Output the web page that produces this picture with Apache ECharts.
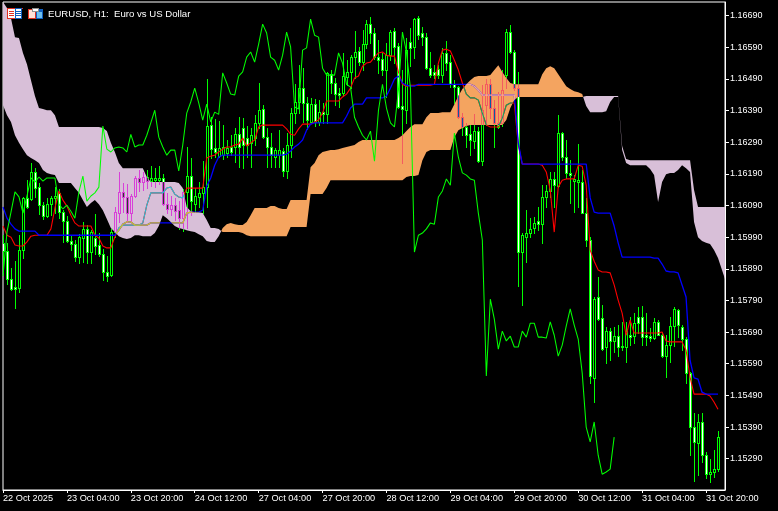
<!DOCTYPE html>
<html>
<head>
<meta charset="utf-8">
<title>EURUSD, H1</title>
<style>html,body{margin:0;padding:0;background:#000;}#c{width:778px;height:511px;}</style>
<script src="https://cdn.jsdelivr.net/npm/echarts@6/dist/echarts.min.js"></script>
</head>
<body>
<div id="c"></div>
<script>
const chartTitle = 'EURUSD, H1:  Euro vs US Dollar';
const xTickBars = [0,16,32,48,64,80,96,112,128,144,160,176];
const xTickLabels = ['22 Oct 2025','23 Oct 04:00','23 Oct 20:00','24 Oct 12:00','27 Oct 04:00','27 Oct 20:00','28 Oct 12:00','29 Oct 04:00','29 Oct 20:00','30 Oct 12:00','31 Oct 04:00','31 Oct 20:00'];
const yTicks = [1.1529,1.1539,1.1549,1.1559,1.1569,1.1579,1.1589,1.1599,1.1609,1.1619,1.1629,1.1639,1.1649,1.1659,1.1669];

const opens = [
1.15972,1.15946,1.15858,1.15832,1.15829,1.15949,1.16114,1.16111,1.16196,1.16148,1.16091,1.16056,1.16094,1.16114,1.16130,1.16069,1.16041,1.15978,1.15968,1.15927,
1.15987,1.16016,1.15943,1.15987,1.15965,1.15936,1.15880,1.15870,1.16006,1.16066,1.16133,1.16117,1.16066,1.16120,1.16177,1.16164,1.16180,1.16167,1.16170,1.16170,
1.16177,1.16094,1.16079,1.16091,1.16075,1.16050,1.16133,1.16183,1.16094,1.16117,1.16130,1.16148,1.16344,1.16272,1.16246,1.16249,1.16256,1.16275,1.16275,1.16315,
1.16335,1.16303,1.16288,1.16303,1.16351,1.16395,1.16306,1.16275,1.16243,1.16249,1.16262,1.16199,1.16281,1.16382,1.16417,1.16461,1.16414,1.16354,1.16410,1.16354,
1.16385,1.16378,1.16505,1.16477,1.16446,1.16446,1.16496,1.16512,1.16559,1.16578,1.16543,1.16600,1.16663,1.16635,1.16559,1.16553,1.16518,1.16565,1.16641,1.16594,
1.16404,1.16391,1.16607,1.16591,1.16682,1.16635,1.16622,1.16524,1.16512,1.16521,1.16502,1.16572,1.16543,1.16473,1.16464,1.16369,1.16338,1.16315,1.16294,1.16325,
1.16230,1.16407,1.16473,1.16398,1.16351,1.16351,1.16502,1.16638,1.16575,1.16461,1.15943,1.15990,1.16003,1.16019,1.16041,1.16031,1.16117,1.16136,1.16174,1.16151,
1.16319,1.16243,1.16193,1.16167,1.16164,1.16164,1.16066,1.15981,1.15545,1.15801,1.15734,1.15643,1.15693,1.15662,1.15677,1.15646,1.15643,1.15680,1.15677,1.15737,
1.15737,1.15680,1.15677,1.15671,1.15722,1.15680,1.15614,1.15649,1.15709,1.15759,1.15706,1.15668,1.15561,1.15390,1.15340,1.15406,1.15301,1.15241,1.15248,1.15257];

const highs = [
1.15996,1.15972,1.15892,1.15914,1.15996,1.16117,1.16170,1.16224,1.16208,1.16161,1.16101,1.16114,1.16120,1.16148,1.16142,1.16075,1.16056,1.15996,1.15981,1.15999,
1.16038,1.16028,1.16012,1.16062,1.16003,1.15953,1.15930,1.16019,1.16085,1.16196,1.16161,1.16157,1.16126,1.16183,1.16202,1.16196,1.16202,1.16214,1.16208,1.16214,
1.16189,1.16130,1.16120,1.16114,1.16104,1.16142,1.16275,1.16240,1.16145,1.16164,1.16230,1.16490,1.16369,1.16363,1.16357,1.16344,1.16297,1.16312,1.16335,1.16369,
1.16366,1.16341,1.16335,1.16375,1.16477,1.16407,1.16335,1.16319,1.16272,1.16328,1.16272,1.16319,1.16398,1.16473,1.16533,1.16524,1.16433,1.16430,1.16427,1.16423,
1.16414,1.16512,1.16518,1.16493,1.16461,1.16572,1.16549,1.16565,1.16641,1.16591,1.16644,1.16676,1.16685,1.16651,1.16613,1.16572,1.16604,1.16644,1.16651,1.16604,
1.16518,1.16619,1.16651,1.16682,1.16688,1.16654,1.16635,1.16575,1.16533,1.16533,1.16588,1.16610,1.16565,1.16486,1.16467,1.16382,1.16351,1.16344,1.16378,1.16338,
1.16470,1.16490,1.16490,1.16423,1.16449,1.16518,1.16648,1.16660,1.16581,1.16512,1.16003,1.16075,1.16050,1.16053,1.16085,1.16154,1.16154,1.16196,1.16196,1.16375,
1.16322,1.16297,1.16233,1.16186,1.16284,1.16202,1.16114,1.15990,1.15801,1.15864,1.15775,1.15706,1.15703,1.15706,1.15712,1.15722,1.15722,1.15737,1.15750,1.15769,
1.15772,1.15750,1.15703,1.15734,1.15728,1.15690,1.15680,1.15737,1.15769,1.15763,1.15712,1.15674,1.15564,1.15434,1.15430,1.15434,1.15311,1.15289,1.15317,1.15377];

const lows = [
1.15880,1.15841,1.15823,1.15766,1.15817,1.15924,1.16082,1.16107,1.16117,1.16062,1.16047,1.16053,1.16059,1.16066,1.16050,1.15975,1.15975,1.15949,1.15914,1.15908,
1.15911,1.15908,1.15908,1.15936,1.15930,1.15854,1.15851,1.15867,1.15990,1.16038,1.16069,1.16038,1.16041,1.16117,1.16136,1.16139,1.16145,1.16151,1.16148,1.16157,
1.16091,1.16066,1.16059,1.16044,1.16016,1.16009,1.16019,1.16059,1.16069,1.16085,1.16066,1.16085,1.16240,1.16243,1.16243,1.16237,1.16243,1.16249,1.16227,1.16211,
1.16208,1.16243,1.16211,1.16281,1.16335,1.16303,1.16211,1.16211,1.16211,1.16211,1.16183,1.16177,1.16243,1.16351,1.16382,1.16354,1.16332,1.16354,1.16341,1.16344,
1.16351,1.16351,1.16446,1.16407,1.16401,1.16439,1.16470,1.16461,1.16493,1.16533,1.16518,1.16588,1.16604,1.16553,1.16509,1.16502,1.16433,1.16549,1.16540,1.16398,
1.16224,1.16351,1.16530,1.16556,1.16616,1.16597,1.16521,1.16496,1.16493,1.16493,1.16480,1.16518,1.16464,1.16414,1.16366,1.16312,1.16275,1.16249,1.16272,1.16227,
1.16217,1.16344,1.16366,1.16275,1.16335,1.16341,1.16461,1.16572,1.16455,1.15835,1.15775,1.15911,1.15990,1.16003,1.16012,1.15972,1.16085,1.16117,1.16085,1.16148,
1.16233,1.16177,1.16098,1.16069,1.16085,1.16066,1.15962,1.15529,1.15469,1.15728,1.15633,1.15592,1.15601,1.15627,1.15614,1.15633,1.15595,1.15649,1.15655,1.15687,
1.15649,1.15649,1.15662,1.15668,1.15680,1.15611,1.15548,1.15595,1.15646,1.15674,1.15633,1.15529,1.15301,1.15219,1.15238,1.15279,1.15229,1.15216,1.15232,1.15251];

const closes = [
1.15946,1.15858,1.15826,1.15826,1.15949,1.16114,1.16085,1.16196,1.16145,1.16091,1.16056,1.16094,1.16114,1.16120,1.16069,1.16041,1.15978,1.15968,1.15927,1.15990,
1.16016,1.15943,1.16006,1.15962,1.15936,1.15880,1.15867,1.16006,1.16069,1.16133,1.16117,1.16066,1.16120,1.16177,1.16164,1.16180,1.16167,1.16177,1.16177,1.16177,
1.16094,1.16079,1.16091,1.16072,1.16050,1.16133,1.16183,1.16104,1.16120,1.16130,1.16148,1.16341,1.16268,1.16259,1.16272,1.16275,1.16272,1.16259,1.16315,1.16275,
1.16281,1.16281,1.16312,1.16351,1.16391,1.16306,1.16275,1.16249,1.16265,1.16265,1.16199,1.16281,1.16382,1.16417,1.16461,1.16414,1.16360,1.16410,1.16354,1.16385,
1.16378,1.16509,1.16477,1.16442,1.16439,1.16499,1.16512,1.16559,1.16575,1.16543,1.16600,1.16663,1.16635,1.16559,1.16549,1.16518,1.16565,1.16638,1.16591,1.16401,
1.16395,1.16581,1.16588,1.16679,1.16628,1.16622,1.16524,1.16502,1.16502,1.16502,1.16572,1.16540,1.16473,1.16464,1.16369,1.16338,1.16312,1.16297,1.16325,1.16230,
1.16391,1.16473,1.16398,1.16351,1.16338,1.16455,1.16638,1.16575,1.16461,1.15943,1.15996,1.16003,1.16016,1.16035,1.16031,1.16117,1.16136,1.16174,1.16154,1.16319,
1.16243,1.16193,1.16186,1.16174,1.16170,1.16066,1.15981,1.15551,1.15794,1.15731,1.15636,1.15693,1.15662,1.15677,1.15643,1.15643,1.15693,1.15674,1.15718,1.15718,
1.15674,1.15674,1.15671,1.15722,1.15680,1.15614,1.15649,1.15709,1.15763,1.15712,1.15668,1.15561,1.15390,1.15343,1.15406,1.15301,1.15241,1.15248,1.15257,1.15358];

const tenkan = [
1.16025,1.15996,1.15990,1.15965,1.15962,1.15962,1.15975,1.15993,1.15996,1.15996,1.15996,1.15996,1.16016,1.16082,1.16136,1.16107,1.16088,1.16059,1.16035,1.16025,
1.16025,1.16025,1.16025,1.15996,1.15987,1.15962,1.15956,1.15956,1.15990,1.16019,1.16028,1.16028,1.16028,1.16028,1.16028,1.16035,1.16091,1.16130,1.16130,1.16130,
1.16130,1.16145,1.16148,1.16126,1.16117,1.16114,1.16145,1.16145,1.16145,1.16145,1.16145,1.16240,1.16246,1.16249,1.16259,1.16268,1.16275,1.16275,1.16281,1.16284,
1.16303,1.16278,1.16288,1.16297,1.16338,1.16344,1.16344,1.16344,1.16344,1.16344,1.16344,1.16332,1.16315,1.16312,1.16332,1.16347,1.16347,1.16347,1.16354,1.16360,
1.16382,1.16420,1.16420,1.16420,1.16420,1.16433,1.16442,1.16461,1.16493,1.16499,1.16530,1.16540,1.16543,1.16559,1.16572,1.16575,1.16565,1.16562,1.16562,1.16512,
1.16473,1.16467,1.16470,1.16470,1.16470,1.16470,1.16470,1.16470,1.16473,1.16540,1.16581,1.16584,1.16578,1.16549,1.16518,1.16477,1.16442,1.16430,1.16430,1.16423,
1.16382,1.16344,1.16338,1.16338,1.16338,1.16366,1.16407,1.16414,1.16414,1.16281,1.16221,1.16221,1.16221,1.16221,1.16221,1.16217,1.16196,1.16139,1.16006,1.16148,
1.16170,1.16174,1.16174,1.16174,1.16217,1.16214,1.16154,1.15949,1.15914,1.15886,1.15880,1.15880,1.15877,1.15839,1.15791,1.15750,1.15680,1.15728,1.15687,1.15687,
1.15687,1.15687,1.15687,1.15687,1.15687,1.15690,1.15662,1.15659,1.15659,1.15659,1.15659,1.15633,1.15548,1.15494,1.15494,1.15494,1.15494,1.15488,1.15469,1.15446];

const kijun = [
1.16085,1.16050,1.16031,1.16016,1.16009,1.16009,1.16009,1.16009,1.16009,1.15996,1.15996,1.15996,1.15996,1.15996,1.15996,1.15996,1.15996,1.15996,1.15996,1.15996,
1.15996,1.15996,1.15996,1.15996,1.15996,1.15996,1.15996,1.15996,1.15996,1.16012,1.16031,1.16038,1.16038,1.16028,1.16028,1.16028,1.16028,1.16035,1.16035,1.16035,
1.16035,1.16035,1.16035,1.16035,1.16035,1.16035,1.16066,1.16069,1.16069,1.16069,1.16075,1.16151,1.16177,1.16217,1.16243,1.16249,1.16249,1.16249,1.16249,1.16249,
1.16249,1.16249,1.16249,1.16249,1.16249,1.16249,1.16249,1.16249,1.16249,1.16249,1.16249,1.16252,1.16262,1.16275,1.16284,1.16297,1.16328,1.16347,1.16351,1.16351,
1.16351,1.16351,1.16351,1.16351,1.16351,1.16351,1.16372,1.16398,1.16410,1.16410,1.16410,1.16430,1.16430,1.16430,1.16430,1.16430,1.16436,1.16461,1.16490,1.16499,
1.16477,1.16470,1.16467,1.16467,1.16473,1.16473,1.16473,1.16473,1.16473,1.16473,1.16473,1.16473,1.16473,1.16473,1.16473,1.16473,1.16473,1.16473,1.16467,1.16455,
1.16439,1.16439,1.16439,1.16439,1.16439,1.16439,1.16439,1.16439,1.16439,1.16288,1.16221,1.16221,1.16221,1.16221,1.16221,1.16221,1.16221,1.16221,1.16221,1.16221,
1.16221,1.16221,1.16221,1.16221,1.16221,1.16221,1.16221,1.16114,1.16069,1.16066,1.16066,1.16066,1.16066,1.16025,1.15972,1.15927,1.15927,1.15927,1.15927,1.15927,
1.15927,1.15927,1.15927,1.15924,1.15924,1.15905,1.15883,1.15880,1.15880,1.15877,1.15839,1.15801,1.15601,1.15545,1.15541,1.15500,1.15494,1.15494,1.15494,1.15494];

const senkouA = [
1.16407,1.16375,1.16354,1.16312,1.16288,1.16268,1.16249,1.16240,1.16233,1.16224,1.16202,1.16193,1.16189,1.16186,1.16161,1.16161,1.16161,1.16161,1.16145,1.16130,
1.16107,1.16085,1.16098,1.16107,1.16094,1.16075,1.16047,1.16019,1.16006,1.15993,1.15987,1.15984,1.15987,1.15996,1.15996,1.15993,1.15993,1.15993,1.16003,1.16025,
1.16059,1.16050,1.16038,1.16025,1.16019,1.16016,1.16012,1.16009,1.16006,1.15999,1.15993,1.15978,1.15975,1.15975,1.15993,
1.16019,1.16031,1.16035,1.16031,1.16028,1.16028,1.16038,1.16059,1.16082,1.16082,1.16082,1.16082,1.16088,1.16088,1.16082,1.16079,1.16079,1.16107,1.16107,1.16107,
1.16107,1.16107,1.16211,1.16224,1.16249,1.16259,1.16262,1.16265,1.16265,1.16268,1.16272,1.16275,1.16278,1.16281,1.16291,1.16297,1.16297,1.16297,1.16297,1.16297,
1.16297,1.16297,1.16297,1.16297,1.16303,1.16312,1.16325,1.16338,1.16347,1.16347,1.16347,1.16369,1.16382,1.16382,1.16382,1.16385,1.16385,1.16385,1.16410,1.16436,
1.16458,1.16473,1.16486,1.16496,1.16499,1.16499,1.16499,1.16502,1.16518,1.16533,1.16512,1.16493,1.16477,1.16473,1.16473,1.16473,1.16473,1.16473,1.16473,1.16473,
1.16505,1.16524,1.16530,1.16524,1.16505,1.16486,1.16467,1.16458,1.16451,1.16448,1.16442,
1.16404,1.16385,1.16385,1.16385,1.16385,1.16388,1.16417,1.16433,1.16433,1.16265,1.16224,1.16217,1.16217,1.16217,1.16217,1.16217,1.16205,1.16186,1.16101,1.16164,
1.16189,1.16193,1.16193,1.16202,1.16217,1.16208,1.16196,1.16038,1.15990,1.15978,1.15972,1.15968,1.15949,1.15924,1.15886,1.15848];

const senkouB = [
1.16733,1.16714,1.16682,1.16622,1.16619,1.16572,1.16536,1.16486,1.16436,1.16398,1.16395,1.16391,1.16391,1.16375,1.16338,1.16338,1.16338,1.16338,1.16338,1.16338,
1.16338,1.16338,1.16338,1.16338,1.16338,1.16335,1.16325,1.16288,1.16259,1.16224,1.16208,1.16208,1.16208,1.16208,1.16208,1.16208,1.16180,1.16164,1.16164,1.16164,
1.16164,1.16164,1.16164,1.16164,1.16161,1.16145,1.16085,1.16072,1.16069,1.16069,1.16066,1.16044,1.16019,1.16019,1.16016,
1.16006,1.16006,1.16006,1.16006,1.16006,1.16003,1.15996,1.15993,1.15993,1.15993,1.15993,1.15993,1.15993,1.15993,1.15993,1.15993,1.15993,1.16022,1.16022,1.16022,
1.16022,1.16022,1.16126,1.16126,1.16126,1.16126,1.16145,1.16170,1.16170,1.16170,1.16170,1.16170,1.16170,1.16170,1.16170,1.16170,1.16170,1.16170,1.16170,1.16170,
1.16170,1.16170,1.16170,1.16170,1.16170,1.16170,1.16180,1.16183,1.16183,1.16186,1.16233,1.16259,1.16265,1.16265,1.16265,1.16265,1.16265,1.16265,1.16306,1.16328,
1.16335,1.16341,1.16344,1.16344,1.16344,1.16344,1.16344,1.16344,1.16344,1.16344,1.16344,1.16360,1.16398,1.16423,1.16433,1.16433,1.16433,1.16433,1.16433,1.16433,
1.16433,1.16433,1.16433,1.16433,1.16433,1.16433,1.16433,1.16433,1.16433,1.16433,1.16433,
1.16436,1.16436,1.16436,1.16436,1.16436,1.16436,1.16436,1.16436,1.16436,1.16278,1.16237,1.16233,1.16233,1.16233,1.16233,1.16233,1.16233,1.16233,1.16233,1.16233,
1.16233,1.16233,1.16233,1.16233,1.16233,1.16233,1.16233,1.16139,1.16085,1.16085,1.16085,1.16085,1.16085,1.16085,1.16085,1.16085];

const chikou = closes.slice(26);

const GREEN = [0,255,0], WHITE = [255,255,255], RED = [255,0,0], BLUE = [0,0,255], BLACK = [0,0,0];
const BULL_CLOUD = [244,164,96], BEAR_CLOUD = [216,191,216];
const css = c => 'rgb(' + c.join(',') + ')';
// the platform paints the cloud by XOR-like mixing: marks inside it change colour
const mix = (c, bg) => c.map((v, k) => Math.abs(v - bg[k]));

[opens,highs,lows,closes,tenkan,kijun].forEach((a,k)=>{ if(a.length!==180) throw new Error('len '+k+' '+a.length); });
if(senkouA.length!==182||senkouB.length!==182) throw new Error('senkou '+senkouA.length+' '+senkouB.length);

// split the cloud into runs of one sign; each run closes at the interpolated crossing
function cloudRuns(){
  const runs=[]; let cur=null;
  const sign=i=>senkouA[i]>=senkouB[i]?1:-1;
  for(let i=0;i<senkouA.length;i++){
    const s=sign(i);
    if(!cur){cur={s,a:[[i,senkouA[i]]],b:[[i,senkouB[i]]]};continue;}
    if(s!==cur.s){
      const d0=senkouA[i-1]-senkouB[i-1], d1=senkouA[i]-senkouB[i];
      const t=d0/(d0-d1), xc=i-1+t, yc=senkouA[i-1]+(senkouA[i]-senkouA[i-1])*t;
      cur.a.push([xc,yc]);cur.b.push([xc,yc]);runs.push(cur);
      cur={s,a:[[xc,yc],[i,senkouA[i]]],b:[[xc,yc],[i,senkouB[i]]]};
    } else {cur.a.push([i,senkouA[i]]);cur.b.push([i,senkouB[i]]);}
  }
  runs.push(cur);return runs;
}
const runs=cloudRuns();

const chart=echarts.init(document.getElementById('c'),null,{renderer:'canvas',devicePixelRatio:1});

const candleRows=opens.map((o,i)=>[i,o,highs[i],lows[i],closes[i]]);
const lineData=a=>a.map((v,i)=>[i,v]);

const fontFam='"Liberation Sans",sans-serif';

const icon=[
 ['#e03020',8,8,15,1],['#e03020',8,18,8,1],['#e03020',7,8,1,11],['#ffffff',8,9,7,9],
 ['#e03020',9,11,5,1],['#e03020',9,13,5,1],['#e03020',9,15,5,1],
 ['#1060c0',15,8,7,11],['#ffffff',16,9,5,9],['#1060c0',16,11,5,1],['#1060c0',16,13,5,1],['#1060c0',16,15,5,1],
 ['#e03020',28,9,8,10],['#ffe0d8',29,10,6,8],['#1060c0',36,9,7,10],['#70c0f0',37,12,5,6],
 ['#909090',32,8,7,4],['#ffffff',33,9,5,2]
];

// one candle as crisp pixel rectangles, in given colours
function candleShapes(api,row,wick,body,bearFill,bullFill){
  const [i,o,h,l,c]=row;
  const pO=api.coord([i,o]);
  const X=Math.round(pO[0]), yO=Math.round(pO[1]), yC=Math.round(api.coord([i,c])[1]);
  const yH=Math.round(api.coord([i,h])[1]), yL=Math.round(api.coord([i,l])[1]);
  const t=Math.min(yO,yC), b=Math.max(yO,yC);
  const r=(x,y,w,hh,f)=>({type:'rect',shape:{x,y,width:w,height:hh},style:{fill:f}});
  const kids=[r(X,yH,1,yL-yH+1,wick),r(X-1,t,3,b-t+1,body)];
  if(b-t>=2) kids.push(r(X,t+1,1,b-t-1,c<o?bearFill:bullFill));
  return kids;
}
const LW={t:1.1,k:1.3,c:1.05};

chart.setOption({
  animation:false,
  backgroundColor:'#000',
  title:{text:chartTitle,left:48,top:8,padding:0,textStyle:{color:'#fff',fontFamily:fontFam,fontSize:9.6,fontWeight:'normal',lineHeight:12}},
  tooltip:{show:false},
  grid:{left:2,right:53,top:2,bottom:21,show:true,borderColor:'#fff',borderWidth:1,backgroundColor:'transparent'},
  xAxis:{type:'value',min:0,max:180.75,
    axisLine:{show:true,onZero:false,lineStyle:{color:'#fff'}},
    axisTick:{show:true,length:3,customValues:xTickBars,lineStyle:{color:'#fff'}},
    splitLine:{show:false},
    axisLabel:{customValues:xTickBars,color:'#fff',fontFamily:fontFam,fontSize:9.2,margin:4,align:'left',
      formatter:v=>xTickLabels[xTickBars.indexOf(v)]||''}
  },
  yAxis:{type:'value',position:'right',min:1.15191,max:1.16733,scale:true,
    axisLine:{show:true,onZero:false,lineStyle:{color:'#fff'}},
    axisTick:{show:true,length:4,customValues:yTicks,lineStyle:{color:'#fff'}},
    splitLine:{show:false},
    axisLabel:{customValues:yTicks,color:'#fff',fontFamily:fontFam,fontSize:9,margin:5,formatter:v=>v.toFixed(5)}
  },
  graphic:icon.map(r=>({type:'rect',silent:true,z:200,shape:{x:r[1],y:r[2],width:r[3],height:r[4]},style:{fill:r[0]}})),
  series:[
    {type:'custom',name:'Cloud',z:1,silent:true,clip:true,data:runs.map((r,k)=>[k]),
     encode:{x:[],y:[]},
     renderItem(p,api){
      const run=runs[p.dataIndex];
      const pts=run.a.map(q=>api.coord(q)).concat(run.b.slice().reverse().map(q=>api.coord(q)));
      return {type:'polygon',shape:{points:pts},style:{fill:css(run.s>0?BULL_CLOUD:BEAR_CLOUD)}};
     }},
    {type:'custom',name:'Candles',z:2,silent:true,clip:true,data:candleRows,
     encode:{x:0,y:[1,2,3,4]},
     renderItem(p,api){
      const row=candleRows[p.dataIndex];
      return {type:'group',children:candleShapes(api,row,css(GREEN),css(GREEN),css(WHITE),css(BLACK))};
     }},
    {type:'line',name:'Tenkan',z:3,silent:true,data:lineData(tenkan),symbol:'none',clip:true,lineStyle:{color:css(RED),width:LW.t}},
    {type:'line',name:'Kijun',z:3,silent:true,data:lineData(kijun),symbol:'none',clip:true,lineStyle:{color:css(BLUE),width:LW.k}},
    {type:'custom',name:'Marks inside cloud',z:4,silent:true,clip:true,data:runs.map((r,k)=>[k]),
     encode:{x:[],y:[]},
     renderItem(p,api){
      const run=runs[p.dataIndex], bg=run.s>0?BULL_CLOUD:BEAR_CLOUD;
      const pts=run.a.map(q=>api.coord(q)).concat(run.b.slice().reverse().map(q=>api.coord(q)));
      const x0=run.a[0][0]-2, x1=run.a[run.a.length-1][0]+2;
      let kids=[];
      candleRows.forEach(row=>{
        if(row[0]>=x0&&row[0]<=x1) kids=kids.concat(candleShapes(api,row,css(mix(GREEN,bg)),css(mix(GREEN,bg)),css(mix(WHITE,bg)),css(bg)));
      });
      const poly=(arr,col,w)=>({type:'polyline',shape:{points:arr.map((v,i)=>api.coord([i,v]))},style:{fill:null,stroke:css(mix(col,bg)),lineWidth:w}});
      kids.push(poly(tenkan,RED,LW.t));
      kids.push(poly(kijun,BLUE,LW.k));
      return {type:'group',clipPath:{type:'polygon',shape:{points:pts}},children:kids};
     }},
    {type:'line',name:'Chikou',z:5,silent:true,data:lineData(chikou),symbol:'none',clip:true,lineStyle:{color:css(GREEN),width:LW.c}}
  ]
});
</script>
</body>
</html>
